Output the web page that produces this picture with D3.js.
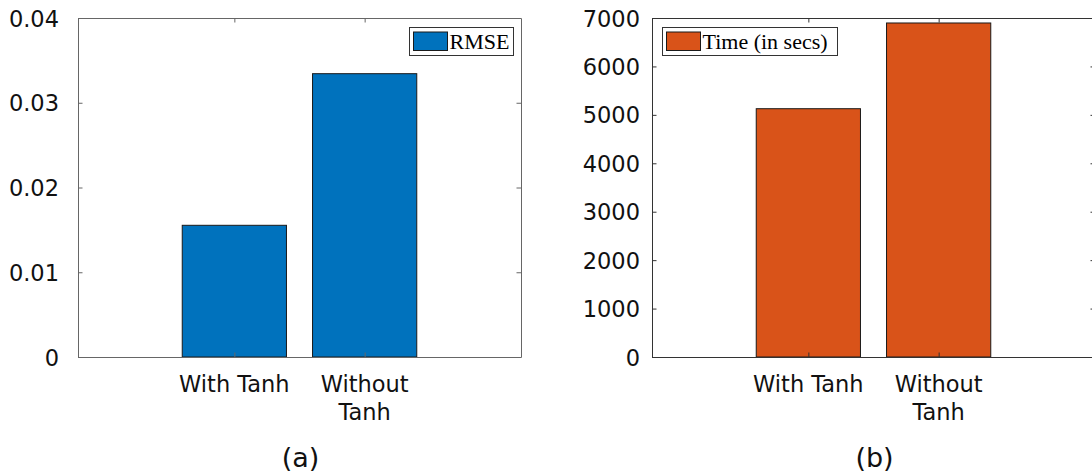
<!DOCTYPE html>
<html>
<head>
<meta charset="utf-8">
<script src="https://cdn.jsdelivr.net/npm/d3@7"></script>
<style>
  html, body { margin: 0; padding: 0; background: #fff; }
  svg { display: block; }
</style>
</head>
<body>
<svg id="fig" width="1092" height="474"></svg>
<script>
// Bar categories and measured values
const categories = ["With Tanh", "Without\nTanh"];
const rmseValues = [0.01554, 0.03343];
const timeValues = [5127, 6897];

// Axis tick values
const rmseTicks = [0, 0.01, 0.02, 0.03, 0.04];
const timeTicks = [0, 1000, 2000, 3000, 4000, 5000, 6000, 7000];

const svg = d3.select("#fig");
const tickFont = "DejaVu Sans, sans-serif";
const legendFont = "Liberation Serif, Times New Roman, serif";

function panel(opts) {
  const { left, right, top, bottom, values, yMax, ticks, fmt, color, axisColor,
          legendLabel, legendBox, caption, labelPad } = opts;
  const g = svg.append("g");

  const x = d3.scaleLinear().domain([-0.2, 3.2]).range([left, right]);
  const y = d3.scaleLinear().domain([0, yMax]).range([bottom, top]);
  const barW = x(0.8) - x(0);
  const tickLen = 4.5;

  // bars
  g.selectAll("rect.bar").data(values).enter().append("rect")
    .attr("class", "bar")
    .attr("x", (d, i) => x(i + 1) - barW / 2)
    .attr("y", d => y(d))
    .attr("width", barW)
    .attr("height", d => y(0) - y(d))
    .attr("fill", color)
    .attr("stroke", "#1a1a1a")
    .attr("stroke-width", 1);

  // left y axis with labels
  const yAxis = d3.axisLeft(y).tickValues(ticks).tickFormat(fmt)
    .tickSizeInner(-tickLen).tickSizeOuter(0).tickPadding(labelPad);
  const ya = g.append("g").attr("transform", `translate(${left},0)`).call(yAxis);
  ya.select(".domain").attr("stroke", axisColor);
  ya.selectAll(".tick line").attr("stroke", axisColor);
  ya.selectAll(".tick text").attr("font-family", tickFont).attr("font-size", 22.5)
    .attr("fill", "#111").attr("dy", "0.36em");

  // mirrored y ticks on the right edge
  const yr = d3.axisRight(y).tickValues(ticks).tickFormat("")
    .tickSizeInner(-tickLen).tickSizeOuter(0);
  const yra = g.append("g").attr("transform", `translate(${right},0)`).call(yr);
  yra.select(".domain").attr("stroke", axisColor);
  yra.selectAll(".tick line").attr("stroke", axisColor);

  // bottom x axis
  const xb = d3.axisBottom(x).tickValues([1, 2]).tickFormat("")
    .tickSizeInner(-tickLen).tickSizeOuter(0);
  const xba = g.append("g").attr("transform", `translate(0,${bottom})`).call(xb);
  xba.select(".domain").attr("stroke", axisColor);
  xba.selectAll(".tick line").attr("stroke", axisColor);

  // top x axis
  const xt = d3.axisTop(x).tickValues([1, 2]).tickFormat("")
    .tickSizeInner(-tickLen).tickSizeOuter(0);
  const xta = g.append("g").attr("transform", `translate(0,${top})`).call(xt);
  xta.select(".domain").attr("stroke", axisColor);
  xta.selectAll(".tick line").attr("stroke", axisColor);

  // category labels (multi-line)
  categories.forEach((c, i) => {
    const lines = c.split("\n");
    const t = g.append("text")
      .attr("x", x(i + 1))
      .attr("y", bottom + 35)
      .attr("text-anchor", "middle")
      .attr("font-family", tickFont)
      .attr("font-size", 22.5)
      .attr("fill", "#111");
    lines.forEach((ln, k) => {
      t.append("tspan").attr("x", x(i + 1)).attr("dy", k === 0 ? 0 : 28).text(ln);
    });
  });

  // legend
  const lg = g.append("g");
  lg.append("rect")
    .attr("x", legendBox.x).attr("y", legendBox.y)
    .attr("width", legendBox.w).attr("height", legendBox.h)
    .attr("fill", "#fff").attr("stroke", "#333").attr("stroke-width", 1);
  lg.append("rect")
    .attr("x", legendBox.x + 4).attr("y", legendBox.y + 4.5)
    .attr("width", 34).attr("height", 18.5)
    .attr("fill", color).attr("stroke", "#1a1a1a").attr("stroke-width", 1);
  lg.append("text")
    .attr("x", legendBox.x + 40).attr("y", legendBox.y + 21)
    .attr("font-family", legendFont).attr("font-size", 22)
    .attr("fill", "#000").text(legendLabel);

  // panel caption
  g.append("text")
    .attr("x", (left + right) / 2 + 1)
    .attr("y", 467)
    .attr("text-anchor", "middle")
    .attr("font-family", tickFont)
    .attr("font-size", 27)
    .attr("fill", "#111")
    .text(caption);
}

panel({
  left: 78, right: 521, top: 18, bottom: 357,
  values: rmseValues, yMax: 0.04, ticks: rmseTicks,
  fmt: d => d === 0 ? "0" : d3.format(".2f")(d),
  color: "#0072BD", axisColor: "#666",
  legendLabel: "RMSE",
  legendBox: { x: 409.5, y: 27.5, w: 104, h: 28 },
  caption: "(a)", labelPad: 19
});

panel({
  left: 652, right: 1095, top: 18, bottom: 357,
  values: timeValues, yMax: 7000, ticks: timeTicks,
  fmt: d3.format("d"),
  color: "#D95319", axisColor: "#333",
  legendLabel: "Time (in secs)",
  legendBox: { x: 662.5, y: 27.5, w: 175, h: 28 },
  caption: "(b)", labelPad: 12
});
</script>
</body>
</html>
